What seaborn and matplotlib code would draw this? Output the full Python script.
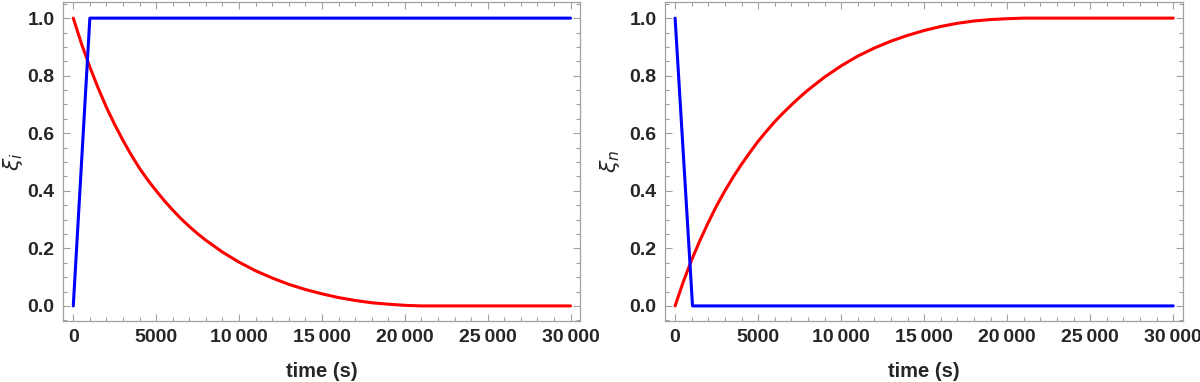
#!/usr/bin/env python3
"""Two-panel xi(t) plot, Mathematica-like frame."""

import matplotlib
matplotlib.use("Agg")
import matplotlib.pyplot as plt
import seaborn as sns
from matplotlib.ticker import FuncFormatter, MultipleLocator

# time grid (s)
time_red = [0, 500, 1000, 1500, 2000, 2500, 3000, 3500, 4000, 4500, 5000, 5500,
            6000, 6500, 7000, 7500, 8000, 9000, 10000, 11000, 12000, 13000,
            14000, 15000, 16000, 17000, 18000, 19000, 20000, 21000, 22000,
            25000, 30000]

# left panel: xi_i
xi_i_red = [1.000, 0.910, 0.830, 0.757, 0.690, 0.630, 0.575, 0.524, 0.478, 0.437,
            0.400, 0.365, 0.333, 0.303, 0.276, 0.251, 0.228, 0.187, 0.152, 0.122,
            0.097, 0.075, 0.057, 0.042, 0.029, 0.019, 0.011, 0.006, 0.002, 0.000,
            0.000, 0.000, 0.000]
time_blue_i = [0, 1000, 30000]
xi_i_blue = [0.0, 1.0, 1.0]

# right panel: xi_n
xi_n_red = [0.000, 0.085, 0.160, 0.228, 0.290, 0.348, 0.400, 0.448, 0.492, 0.533,
            0.572, 0.607, 0.640, 0.670, 0.698, 0.725, 0.750, 0.795, 0.834, 0.868,
            0.896, 0.920, 0.940, 0.957, 0.971, 0.982, 0.990, 0.995, 0.998, 1.000,
            1.000, 1.000, 1.000]
time_blue_n = [0, 1050, 30000]
xi_n_blue = [1.0, 0.0, 0.0]

sns.set_style("ticks")
plt.rcParams["font.family"] = ["Liberation Sans", "DejaVu Sans"]
plt.rcParams["mathtext.fontset"] = "dejavusans"

FRAME = "#a0a0a0"


def fmt_time(v, _pos):
    v = int(round(v))
    if abs(v) >= 10000:
        return f"{v:,}".replace(",", "\u2009")
    return str(v)


def style_axis(ax, ylabel, ylab_x):
    ax.set_xlim(-620, 30580)
    ax.set_ylim(-0.052, 1.055)
    ax.xaxis.set_major_locator(MultipleLocator(5000))
    ax.xaxis.set_minor_locator(MultipleLocator(1000))
    ax.yaxis.set_major_locator(MultipleLocator(0.2))
    ax.yaxis.set_minor_locator(MultipleLocator(0.05))
    ax.xaxis.set_major_formatter(FuncFormatter(fmt_time))
    ax.yaxis.set_major_formatter(FuncFormatter(lambda v, p: f"{v:.1f}"))
    for sp in ax.spines.values():
        sp.set_visible(True)
        sp.set_color(FRAME)
        sp.set_linewidth(0.9)
    ax.tick_params(which="both", direction="in", top=True, right=True,
                   color=FRAME, width=0.8)
    ax.tick_params(which="major", length=5, labelsize=14, pad=6)
    ax.tick_params(which="minor", length=2.8)
    for lab in ax.get_xticklabels() + ax.get_yticklabels():
        lab.set_fontweight("bold")
    ax.set_xlabel("time (s)", fontsize=14.5, fontweight="bold")
    ax.xaxis.set_label_coords(0.5, -0.16)
    ax.xaxis.label.set_va("center")
    ax.set_ylabel(ylabel, fontsize=16)
    ax.yaxis.set_label_coords(ylab_x, 0.5)
    ax.yaxis.label.set_va("center")


fig = plt.figure(figsize=(12, 3.82), dpi=100)
ax1 = fig.add_axes([0.0525, 0.160, 0.431, 0.834])
ax2 = fig.add_axes([0.554, 0.160, 0.4317, 0.834])

sns.lineplot(x=time_red, y=xi_i_red, color="#ff0000", linewidth=2.2, ax=ax1)
sns.lineplot(x=time_blue_i, y=xi_i_blue, color="#0000ff", linewidth=2.2, ax=ax1)
sns.lineplot(x=time_red, y=xi_n_red, color="#ff0000", linewidth=2.2, ax=ax2)
sns.lineplot(x=time_blue_n, y=xi_n_blue, color="#0000ff", linewidth=2.2, ax=ax2)

style_axis(ax1, r"$\xi_i$", -0.097)
style_axis(ax2, r"$\xi_n$", -0.106)

fig.savefig("out.png", dpi=100)
plt.close(fig)
